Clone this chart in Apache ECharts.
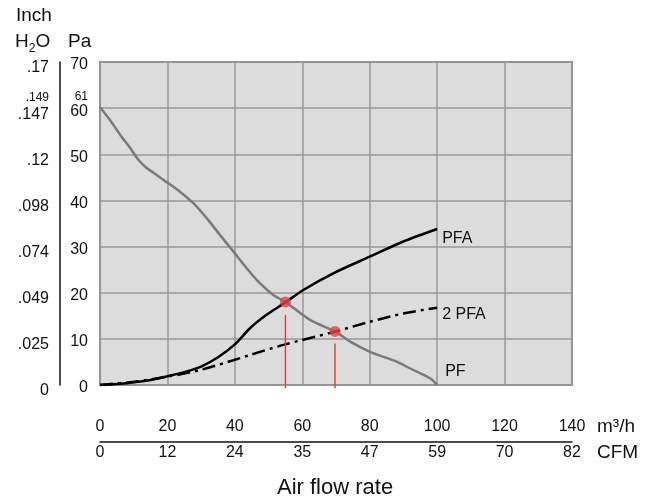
<!DOCTYPE html>
<html>
<head>
<meta charset="utf-8">
<script src="https://cdn.jsdelivr.net/npm/echarts@6/dist/echarts.min.js"></script>
<style>
html,body{margin:0;padding:0;background:#fff}
#main{width:655px;height:499px}
</style>
</head>
<body>
<div id="main"></div>
<script>
// fan curve: static pressure (Pa) against air flow (m3/h)
var pfFlow = [0, 3, 6, 9, 11.4, 13.4, 16.8, 20.3, 23.7, 27.7, 31.7, 35.6, 39.6, 43.5, 47.5, 51.4, 55, 62.3, 69.7, 74.2, 80.1, 86, 88, 92.9, 97.9, 100];
var pfPa   = [60.2, 57.4, 54.2, 51.3, 48.8, 47.3, 45.5, 43.7, 41.9, 39.4, 36.1, 32.5, 28.9, 25.3, 22.0, 19.5, 18.0, 14.1, 11.6, 9.4, 7.2, 5.6, 5.05, 3.25, 1.45, 0];

var pfaFlow = [0, 5, 10, 15, 20, 25, 30, 35, 40, 44.5, 49.4, 55, 60.3, 69.2, 80, 90, 100];
var pfaPa   = [0, 0.2, 0.6, 1.1, 1.9, 2.8, 4.0, 6.0, 8.8, 12.3, 15.2, 17.9, 20.6, 24.2, 27.8, 31.1, 33.8];

var pfa2Flow = [0, 10, 20, 30, 44.5, 54.4, 69.7, 80, 90, 100];
var pfa2Pa   = [0, 0.7, 1.8, 3.3, 6.5, 8.7, 11.55, 13.7, 15.5, 16.75];

// operating points and the red drop lines under them
var opFlow  = [55, 69.7];
var opPa    = [18, 11.6];
var dropTop = [15.2, 9.0];
var dropBottom = -0.7;

// tick labels
var flowTicks = [0, 20, 40, 60, 80, 100, 120, 140];
var cfmTicks  = ['0', '12', '24', '35', '47', '59', '70', '82'];
var paTicks   = [0, 10, 20, 30, 40, 50, 60, 61, 70];
var inchTicks = ['0', '.025', '.049', '.074', '.098', '.12', '.147', '.149', '.17'];

function zip(a, b) {
  return a.map(function (v, i) { return [v, b[i]]; });
}

var font = 'Liberation Sans';
var myChart = echarts.init(document.getElementById('main'));

var series = [
  {
    name: 'PF', type: 'line', data: zip(pfFlow, pfPa), smooth: 0.3, symbol: 'none',
    lineStyle: { color: '#7a7a7a', width: 2.5 },
    endLabel: { show: true, formatter: 'PF', color: '#111', fontSize: 16, distance: 6, offset: [2, -13] }
  },
  {
    name: 'PFA', type: 'line', data: zip(pfaFlow, pfaPa), smooth: 0.3, symbol: 'none',
    lineStyle: { color: '#000', width: 2.5 },
    endLabel: { show: true, formatter: 'PFA', color: '#111', fontSize: 16, distance: 5, offset: [0, 10] }
  },
  {
    name: '2 PFA', type: 'line', data: zip(pfa2Flow, pfa2Pa), smooth: 0.3, symbol: 'none',
    lineStyle: { color: '#000', width: 2.5, type: [13, 5, 3, 5] },
    endLabel: { show: true, formatter: '2 PFA', color: '#111', fontSize: 16, distance: 5, offset: [0, 7] }
  }
];

opFlow.forEach(function (f, i) {
  series.push({
    type: 'line', data: [[f, dropTop[i]], [f, dropBottom]], symbol: 'none', clip: false,
    lineStyle: { color: '#e8413c', width: 1.5 }, silent: true
  });
});

series.push({
  type: 'scatter', data: zip(opFlow, opPa), symbolSize: 11, z: 5,
  itemStyle: { color: '#e8413c' }
});

var titleStyle = { fontSize: 19, fontWeight: 'normal', color: '#111', fontFamily: font };

myChart.setOption({
  animation: false,
  grid: {
    left: 100, right: 83, top: 62, bottom: 114,
    show: true, backgroundColor: '#dcdcdc', borderColor: '#8a8a8a', borderWidth: 2
  },
  title: [
    { text: 'Inch', left: 16, top: 6, padding: 0, textStyle: titleStyle },
    {
      text: '{a|H}{b|2}{a|O}', left: 15, top: 29, padding: 0,
      textStyle: {
        fontWeight: 'normal',
        rich: {
          a: { fontSize: 19, fontWeight: 'normal', color: '#111', fontFamily: font },
          b: { fontSize: 12, fontWeight: 'normal', color: '#111', fontFamily: font, padding: [14, 0, 0, 0] }
        }
      }
    },
    { text: 'Pa', left: 68, top: 32, padding: 0, textStyle: titleStyle },
    { text: 'Air flow rate', left: 277, top: 477, padding: 0, textStyle: { fontSize: 22, fontWeight: 'normal', color: '#111', fontFamily: font } }
  ],
  xAxis: [
    {
      type: 'value', min: 0, max: 140, interval: 20, position: 'bottom', offset: 42,
      name: 'm³/h', nameLocation: 'end', nameGap: 25,
      nameTextStyle: { fontSize: 19, color: '#111', fontFamily: font },
      axisLine: { show: false, onZero: false }, axisTick: { show: false },
      axisLabel: { margin: 0, verticalAlign: 'middle', fontSize: 16, color: '#111', fontFamily: font },
      splitLine: { show: true, lineStyle: { color: '#999', width: 1.5 } }
    },
    {
      type: 'value', min: 0, max: 140, interval: 20, position: 'bottom', offset: 57,
      name: 'CFM', nameLocation: 'end', nameGap: 25,
      nameTextStyle: { fontSize: 19, color: '#111', fontFamily: font, verticalAlign: 'top', padding: [1, 0, 0, 0] },
      axisLine: { show: true, onZero: false, lineStyle: { color: '#111', width: 1.5 } }, axisTick: { show: false },
      axisLabel: {
        margin: 3, fontSize: 16, color: '#111', fontFamily: font,
        formatter: function (v) { return cfmTicks[flowTicks.indexOf(v)]; }
      },
      splitLine: { show: false }
    }
  ],
  yAxis: [
    {
      type: 'value', min: 0, max: 70, interval: 10, position: 'left', offset: 40,
      axisLine: { show: true, onZero: false, lineStyle: { color: '#111', width: 1.5 } }, axisTick: { show: false },
      axisLabel: {
        inside: true, align: 'right', margin: 28, color: '#111', fontFamily: font,
        customValues: paTicks,
        formatter: function (v) { return v === 61 ? '{s|61}' : '{n|' + v + '}'; },
        rich: {
          n: { fontSize: 16, color: '#111', fontFamily: font, padding: [6, 0, 0, 0] },
          s: { fontSize: 12, color: '#111', fontFamily: font, padding: [0, 0, 14, 0] }
        }
      },
      splitLine: { show: true, lineStyle: { color: '#999', width: 1.5 } }
    },
    {
      type: 'value', min: 0, max: 70, interval: 10, position: 'left', offset: 40,
      axisLine: { show: false, onZero: false }, axisTick: { show: false },
      axisLabel: {
        margin: 11, color: '#111', fontFamily: font,
        customValues: paTicks,
        formatter: function (v) {
          var t = inchTicks[paTicks.indexOf(v)];
          return v === 61 ? '{s|' + t + '}' : '{n|' + t + '}';
        },
        rich: {
          n: { fontSize: 16, color: '#111', fontFamily: font, padding: [12, 0, 0, 0] },
          s: { fontSize: 12, color: '#111', fontFamily: font, padding: [0, 0, 12, 0] }
        }
      },
      splitLine: { show: false }
    }
  ],
  series: series
});
</script>
</body>
</html>
